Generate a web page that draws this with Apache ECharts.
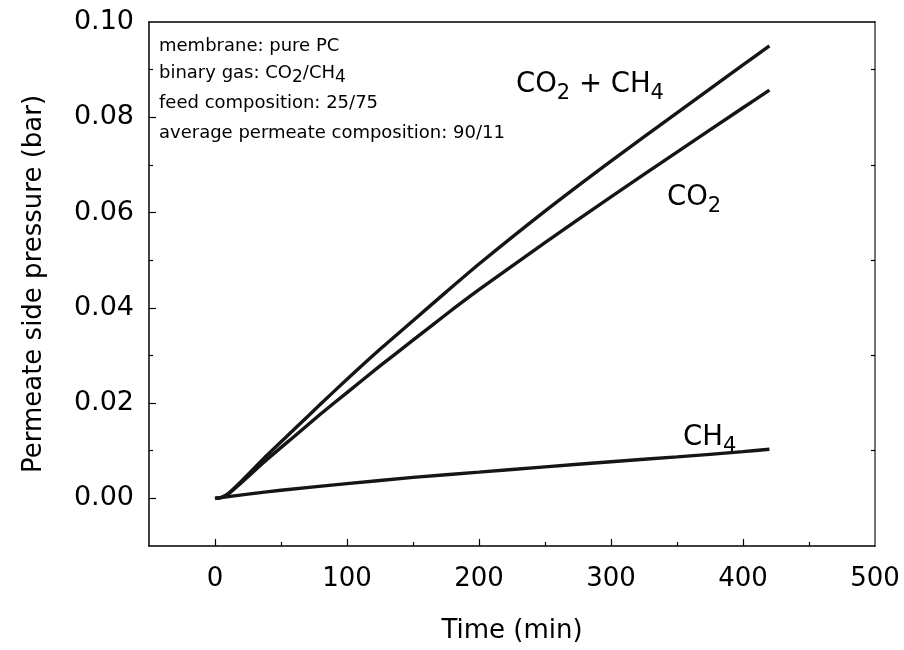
<!DOCTYPE html>
<html>
<head>
<meta charset="utf-8">
<script src="https://cdn.jsdelivr.net/npm/echarts@6/dist/echarts.min.js"></script>
<style>
  html, body { margin: 0; padding: 0; background: #ffffff; }
  #chart { width: 904px; height: 650px; }
</style>
</head>
<body>
<div id="chart"></div>
<script>
// Permeate side pressure vs time, binary CO2/CH4 feed through a pure PC membrane
const timeTotal = [0, 5, 10, 20, 40, 60, 80, 100, 125, 150, 175, 200, 250, 300, 350, 400, 420];
const pressureTotal = [0, 0.0002, 0.0010, 0.0036, 0.0092, 0.0145, 0.0198, 0.0250, 0.0313, 0.0373, 0.0433, 0.0492, 0.0603, 0.0708, 0.0809, 0.0910, 0.0950];

const timeCO2 = [0, 5, 10, 20, 40, 60, 80, 100, 125, 150, 175, 200, 250, 300, 350, 400, 420];
const pressureCO2 = [0, 0.0002, 0.0009, 0.0033, 0.0083, 0.0130, 0.0177, 0.0222, 0.0278, 0.0332, 0.0386, 0.0438, 0.0537, 0.0633, 0.0727, 0.0820, 0.0857];

const timeCH4 = [0, 25, 50, 100, 150, 200, 250, 300, 350, 400, 420];
const pressureCH4 = [0, 0.0009, 0.0017, 0.0031, 0.0044, 0.0055, 0.0066, 0.0077, 0.0087, 0.0098, 0.0103];

const xLabelValues = [0, 100, 200, 300, 400, 500];
const xMajorTicks = [0, 100, 200, 300, 400];
const xMinorTicks = [50, 150, 250, 350, 450];
const yLabelValues = [0, 0.02, 0.04, 0.06, 0.08, 0.10];
const yMajorTicks = [0, 0.02, 0.04, 0.06, 0.08];
const yMinorTicks = [0.01, 0.03, 0.05, 0.07, 0.09];

const infoLines = [
  '{t|membrane: pure PC}',
  '{t|binary gas: CO}{ts|2}{t|/CH}{ts|4}',
  '{t|feed composition: 25/75}',
  '{t|average permeate composition: 90/11}'
];

const FONT = 'DejaVu Sans';

function pair(xs, ys) { return xs.map((x, i) => [x, ys[i]]); }

const chart = echarts.init(document.getElementById('chart'), null, { renderer: 'canvas' });

const lineStyle = { color: '#151515', width: 3.4 };

const bigRich = {
  m: { fontFamily: FONT, fontSize: 27.5, color: '#000' },
  s: { fontFamily: FONT, fontSize: 21, color: '#000', padding: [18, 0, 0, 0] }
};
const smallRich = {
  t: { fontFamily: FONT, fontSize: 18, color: '#111' },
  ts: { fontFamily: FONT, fontSize: 17, color: '#111', padding: [9, 0, 0, 0] }
};

const graphics = infoLines.map((txt, i) => ({
  type: 'text',
  left: 159,
  top: [37, 64, 94, 124][i],
  style: { text: txt, rich: smallRich }
}));
graphics.push(
  { type: 'text', left: 516, top: 71, style: { text: '{m|CO}{s|2}{m| + CH}{s|4}', rich: bigRich } },
  { type: 'text', left: 667, top: 184, style: { text: '{m|CO}{s|2}', rich: bigRich } },
  { type: 'text', left: 683, top: 424, style: { text: '{m|CH}{s|4}', rich: bigRich } }
);

chart.setOption({
  animation: false,
  backgroundColor: '#ffffff',
  grid: { left: 149, right: 29, top: 22, bottom: 104, containLabel: false },
  xAxis: [
    {
      type: 'value', position: 'bottom', min: -50, max: 500, interval: 50,
      name: 'Time (min)', nameLocation: 'middle', nameGap: 72,
      nameTextStyle: { fontFamily: FONT, fontSize: 26, color: '#000' },
      axisLine: { show: true, onZero: false, lineStyle: { color: '#000', width: 1.5 } },
      axisTick: { show: true, inside: true, length: 7, customValues: xMajorTicks, lineStyle: { color: '#000', width: 1.2 } },
      axisLabel: { show: true, customValues: xLabelValues, margin: 20, fontFamily: FONT, fontSize: 26, color: '#000' },
      splitLine: { show: false }
    },
    {
      type: 'value', position: 'bottom', min: -50, max: 500, interval: 50,
      axisLine: { show: false, onZero: false },
      axisTick: { show: true, inside: true, length: 4, customValues: xMinorTicks, lineStyle: { color: '#000', width: 1.2 } },
      axisLabel: { show: false },
      splitLine: { show: false }
    },
    {
      type: 'value', position: 'top', min: -50, max: 500, interval: 50,
      axisLine: { show: true, onZero: false, lineStyle: { color: '#000', width: 1.5 } },
      axisTick: { show: false },
      axisLabel: { show: false },
      splitLine: { show: false }
    }
  ],
  yAxis: [
    {
      type: 'value', position: 'left', min: -0.01, max: 0.10, interval: 0.01,
      name: 'Permeate side pressure (bar)', nameLocation: 'middle', nameGap: 102, nameRotate: 90,
      nameTextStyle: { fontFamily: FONT, fontSize: 26, color: '#000' },
      axisLine: { show: true, onZero: false, lineStyle: { color: '#000', width: 1.5 } },
      axisTick: { show: true, inside: true, length: 7, customValues: yMajorTicks, lineStyle: { color: '#000', width: 1.2 } },
      axisLabel: {
        show: true, customValues: yLabelValues, margin: 15, fontFamily: FONT, fontSize: 27, color: '#000',
        formatter: v => v.toFixed(2)
      },
      splitLine: { show: false }
    },
    {
      type: 'value', position: 'left', min: -0.01, max: 0.10, interval: 0.01,
      axisLine: { show: false, onZero: false },
      axisTick: { show: true, inside: true, length: 4, customValues: yMinorTicks, lineStyle: { color: '#000', width: 1.2 } },
      axisLabel: { show: false },
      splitLine: { show: false }
    },
    {
      type: 'value', position: 'right', min: -0.01, max: 0.10, interval: 0.01,
      axisLine: { show: true, onZero: false, lineStyle: { color: '#444', width: 1.5 } },
      axisTick: { show: true, inside: true, length: 4, customValues: yMinorTicks, lineStyle: { color: '#000', width: 1.2 } },
      axisLabel: { show: false },
      splitLine: { show: false }
    }
  ],
  series: [
    { name: 'CO2 + CH4', type: 'line', data: pair(timeTotal, pressureTotal), showSymbol: false, smooth: 0.2, lineStyle },
    { name: 'CO2', type: 'line', data: pair(timeCO2, pressureCO2), showSymbol: false, smooth: 0.2, lineStyle },
    { name: 'CH4', type: 'line', data: pair(timeCH4, pressureCH4), showSymbol: false, smooth: 0.2, lineStyle }
  ],
  graphic: graphics
});
</script>
</body>
</html>
